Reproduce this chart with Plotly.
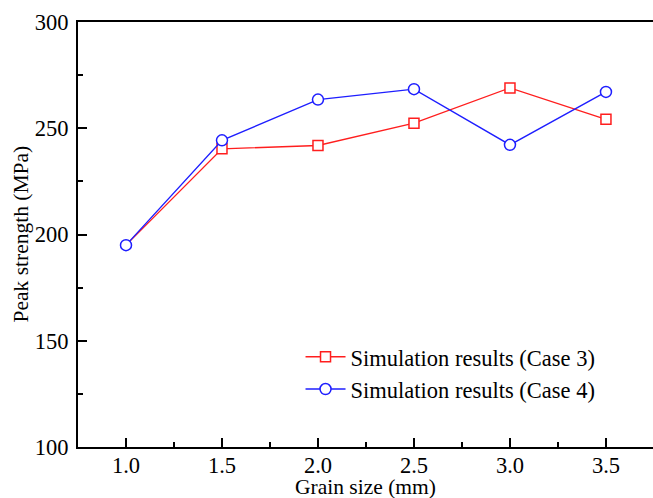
import plotly.graph_objects as go

grain_size = [1.0, 1.5, 2.0, 2.5, 3.0, 3.5]
case3 = [195.0, 240.3, 241.9, 252.4, 269.0, 254.2]
case4 = [195.0, 244.3, 263.5, 268.4, 242.2, 267.1]
x_ticks = [1.0, 1.5, 2.0, 2.5, 3.0, 3.5]
x_ticktext = ["1.0", "1.5", "2.0", "2.5", "3.0", "3.5"]
y_ticks = [100, 150, 200, 250, 300]
x_title = "Grain size (mm)"
y_title = "Peak strength (MPa)"

FONT = "Liberation Serif, Times New Roman, serif"
RED = "rgb(255,30,30)"
BLUE = "rgb(30,30,255)"

fig = go.Figure()
fig.add_trace(go.Scatter(
    x=grain_size, y=case3, mode="lines+markers", name="Simulation results (Case 3)",
    line=dict(color=RED, width=1.4),
    marker=dict(symbol="square", size=10, color="white", line=dict(color=RED, width=1.5)),
    selectedpoints=[1, 2, 3, 4, 5],
    unselected=dict(marker=dict(opacity=0)),
))
fig.add_trace(go.Scatter(
    x=grain_size, y=case4, mode="lines+markers", name="Simulation results (Case 4)",
    line=dict(color=BLUE, width=1.4),
    marker=dict(symbol="circle", size=11, color="white", line=dict(color=BLUE, width=1.5)),
))

fig.update_layout(
    width=653, height=498,
    margin=dict(l=78, r=0, t=22, b=51, autoexpand=False),
    paper_bgcolor="white", plot_bgcolor="white",
    font=dict(family=FONT, size=22.5, color="black"),
    showlegend=True,
    legend=dict(x=0.387, y=0.262, xanchor="left", yanchor="top",
                bgcolor="rgba(0,0,0,0)", borderwidth=0,
                font=dict(family=FONT, size=22.5, color="black"),
                itemwidth=40),
    xaxis=dict(
        range=[0.75, 3.745], tickvals=x_ticks, ticktext=x_ticktext,
        ticks="inside", ticklen=9, tickwidth=1.5, tickcolor="black",
        minor=dict(ticks="inside", ticklen=5, tickwidth=1.5, tickcolor="black", dtick=0.25),
        showline=True, linecolor="black", linewidth=1.8, mirror=True,
        showgrid=False, zeroline=False, automargin=False,
        ticklabelstandoff=-3,
    ),
    yaxis=dict(
        range=[100, 300], tickvals=y_ticks,
        ticks="inside", ticklen=9, tickwidth=1.5, tickcolor="black",
        minor=dict(ticks="inside", ticklen=5, tickwidth=1.5, tickcolor="black", dtick=25),
        showline=True, linecolor="black", linewidth=1.8,
        showgrid=False, zeroline=False, automargin=False,
        ticklabelstandoff=3,
    ),
    annotations=[
        dict(text=x_title, xref="paper", yref="paper", x=0.5, y=0,
             xanchor="center", yanchor="middle", yshift=-40, showarrow=False,
             font=dict(family=FONT, size=21.5, color="black")),
        dict(text=y_title, xref="paper", yref="paper", x=0, y=0.5,
             xanchor="center", yanchor="middle", xshift=-58, textangle=-90, showarrow=False,
             font=dict(family=FONT, size=21.5, color="black")),
    ],
)

fig.write_html("out.html")
